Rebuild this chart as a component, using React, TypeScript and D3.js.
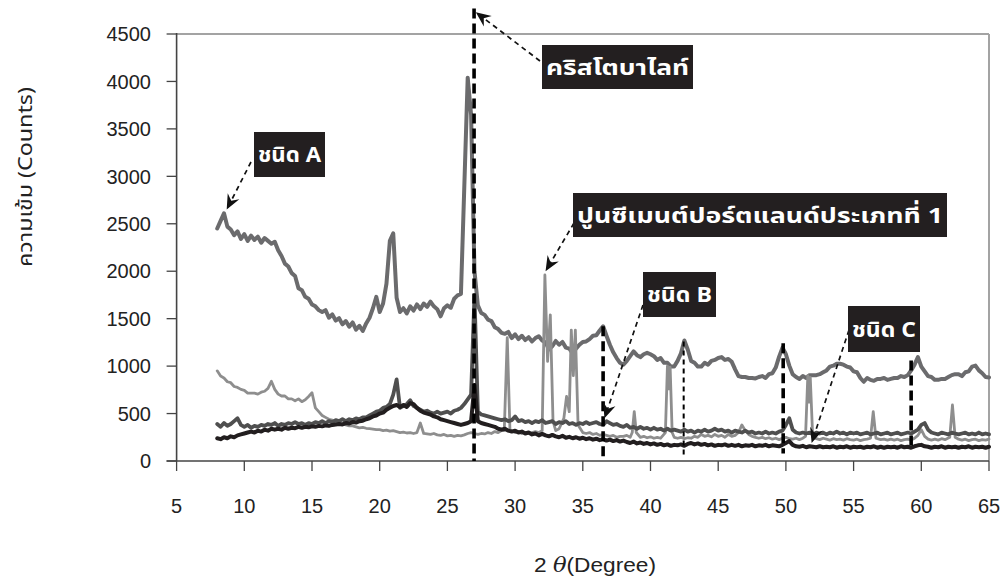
import React from 'react';
import * as d3 from 'd3';

// ---------- data ----------
const xTicks = [5, 10, 15, 20, 25, 30, 35, 40, 45, 50, 55, 60, 65];
const yTicks = [0, 500, 1000, 1500, 2000, 2500, 3000, 3500, 4000, 4500];

// sampling grid of the scans: 2θ from 8.00° in 0.25° steps
const gridStart = 8;
const gridStep = 0.25;

// ชนิด A
const seriesA = [
  2450, 2530, 2610, 2470, 2440, 2380, 2420, 2340, 2390, 2320, 2375, 2330, 2365, 2300, 2350, 2320, 2290, 2310, 2220, 2160,
  2080, 2050, 1980, 1950, 1820, 1800, 1730, 1710, 1650, 1630, 1590, 1570, 1590, 1510, 1545, 1480, 1505, 1440, 1475, 1415,
  1460, 1385, 1425, 1370, 1450, 1510, 1610, 1730, 1570, 1660, 1870, 2320, 2400, 1720, 1570, 1610, 1555, 1630, 1585, 1650,
  1600, 1660, 1625, 1680, 1630, 1600, 1525, 1610, 1640, 1615, 1710, 1745, 1760, 2900, 4040, 3650, 2000, 1640, 1560, 1540,
  1490, 1475, 1410, 1390, 1350, 1340, 1360, 1295, 1335, 1285, 1320, 1275, 1305, 1260, 1295, 1315, 1270, 1250, 1175, 1210,
  1265, 1225, 1255, 1195, 1185, 1135, 1185, 1225, 1255, 1260, 1285, 1320, 1325, 1375, 1420, 1320, 1225, 1145, 1085, 1035,
  1015, 1055, 1105, 1155, 1115, 1095, 1125, 1140, 1125, 1105, 1065, 1085, 1035, 1035, 995, 995, 1055, 1135, 1270, 1175,
  1055, 1035, 995, 995, 1035, 1015, 1055, 1065, 1085, 1095, 1065, 1075, 1045, 965, 895, 885, 885, 875, 875, 870,
  885, 895, 875, 915, 925, 985, 1100, 1195, 1125, 1005, 915, 885, 865, 895, 875, 905, 905, 905, 915, 935,
  955, 995, 1005, 1025, 1025, 1015, 995, 985, 945, 935, 875, 835, 875, 855, 845, 865, 865, 875, 855, 865,
  875, 875, 895, 885, 905, 955, 1015, 1095, 995, 945, 895, 885, 855, 855, 865, 865, 885, 905, 915, 915,
  895, 935, 945, 995, 1005, 955, 925, 885, 880,
];

// ปูนซีเมนต์ปอร์ตแลนด์ประเภทที่ 1 (broad background)
const seriesCement = [
  950, 895, 875, 835, 825, 785, 775, 755, 745, 715, 715, 715, 705, 725, 735, 765, 840, 755, 705, 685,
  685, 655, 655, 635, 655, 625, 645, 680, 720, 560, 520, 480, 460, 440, 430, 410, 400, 390, 380, 370,
  370, 360, 350, 355, 345, 340, 335, 330, 330, 320, 325, 315, 320, 310, 300, 305, 295, 300, 290, 300,
  400, 290, 285, 280, 290, 275, 270, 280, 265, 270, 260, 270, 265, 275, 290, 300, 290, 280, 290, 285,
  300, 290, 310, 300, 320, 310, 300, 320, 300, 310, 290, 300, 290, 300, 310, 300, 320, 310, 300, 330,
  320, 340, 400, 600, 500, 400, 380, 330, 300, 290, 300, 280, 290, 270, 280, 270, 260, 270, 250, 260,
  260, 270, 250, 260, 260, 250, 260, 245, 255, 240, 250, 240, 260, 260, 260, 250, 240, 250, 235, 245,
  240, 260, 250, 280, 260, 270, 255, 280, 260, 270, 250, 280, 260, 270, 300, 380, 320, 280, 260, 250,
  240, 250, 235, 245, 230, 240, 225, 240, 250, 235, 230, 240, 225, 240, 240, 240, 230, 235, 225, 240,
  230, 220, 235, 225, 230, 220, 235, 225, 220, 230, 215, 225, 230, 240, 240, 240, 225, 230, 220, 230,
  220, 230, 215, 225, 230, 220, 240, 270, 330, 260, 230, 220, 230, 220, 235, 225, 240, 240, 240, 230,
  220, 230, 215, 225, 230, 215, 225, 220, 230,
];
// sharp crystalline reflections of the cement, [2θ, counts]
const cementPeaks: [number, number][] = [
  [29.2, 320], [29.42, 1300], [29.62, 330],
  [32.0, 320], [32.2, 1960], [32.4, 1050], [32.6, 1540], [32.8, 420],
  [33.6, 450], [33.8, 680], [34.0, 520], [34.15, 1380], [34.3, 900], [34.45, 1380], [34.65, 380],
  [38.65, 300], [38.8, 520], [38.95, 300],
  [41.1, 300], [41.25, 1000], [41.35, 760], [41.45, 990], [41.6, 300],
  [51.45, 260], [51.62, 900], [51.72, 620], [51.8, 880], [51.98, 250],
  [56.25, 240], [56.45, 520], [56.65, 240],
  [62.1, 250], [62.3, 590], [62.5, 250],
];

// ชนิด B
const seriesB = [
  390, 360, 400, 370, 390, 420, 450, 380, 360, 380, 350, 370, 360, 380, 370, 390, 380, 400, 370, 390,
  380, 400, 390, 410, 390, 400, 380, 400, 390, 410, 400, 420, 400, 420, 410, 430, 420, 440, 420, 440,
  430, 450, 440, 460, 460, 480, 500, 520, 530, 560, 570, 600, 700, 860, 560, 580, 600, 640, 580, 560,
  540, 520, 530, 510, 500, 520, 500, 510, 520, 500, 530, 540, 560, 600, 650, 700, 1750, 520, 490, 480,
  470, 460, 450, 440, 430, 440, 420, 430, 470, 420, 430, 410, 420, 400, 420, 410, 430, 400, 410, 420,
  390, 410, 400, 420, 390, 400, 380, 400, 390, 410, 390, 400, 410, 390, 380, 420, 400, 380, 390, 370,
  360, 380, 350, 360, 340, 360, 340, 350, 330, 350, 330, 340, 320, 340, 320, 330, 320, 310, 330, 310,
  320, 300, 320, 310, 330, 310, 320, 340, 320, 330, 310, 320, 300, 320, 310, 300, 320, 300, 310, 290,
  300, 290, 310, 290, 300, 290, 310, 320, 380, 450, 330, 300, 290, 300, 290, 300, 280, 300, 290, 300,
  280, 300, 290, 310, 290, 300, 280, 300, 290, 300, 280, 290, 300, 280, 290, 300, 280, 290, 300, 280,
  290, 300, 280, 290, 300, 290, 310, 330, 380, 400, 330, 300, 290, 280, 300, 290, 280, 300, 290, 280,
  290, 300, 280, 290, 280, 300, 280, 290, 280,
];

// ชนิด C
const seriesC = [
  240, 230, 250, 240, 260, 250, 270, 280, 290, 300, 310, 300, 320, 310, 330, 320, 340, 330, 340, 330,
  350, 340, 350, 345, 360, 350, 360, 355, 365, 360, 370, 365, 375, 370, 380, 385, 390, 385, 400, 395,
  410, 405, 420, 425, 440, 450, 470, 480, 500, 510, 540, 560, 580, 590, 570, 590, 570, 610, 600, 560,
  530, 510, 500, 490, 470, 460, 440, 430, 420, 410, 400, 390, 380, 390, 400, 420, 800, 420, 400, 390,
  380, 370, 360, 340, 330, 340, 320, 310, 320, 300, 310, 290, 300, 280, 290, 270, 285, 270, 260, 275,
  260, 250, 265, 245, 255, 240, 250, 235, 245, 230, 240, 225, 235, 220, 230, 215, 225, 210, 220, 205,
  215, 200, 190, 205, 185, 195, 180, 190, 175, 185, 170, 180, 165, 175, 160, 170, 165, 175, 160, 180,
  190, 175, 185, 170, 180, 165, 175, 160, 170, 165, 175, 160, 170, 160, 170, 155, 165, 160, 170, 155,
  165, 160, 170, 155, 165, 160, 155, 170, 190, 210, 170, 155, 150, 160, 145, 155, 150, 145, 155, 145,
  150, 145, 155, 140, 150, 145, 155, 140, 150, 145, 150, 140, 150, 145, 155, 140, 150, 140, 150, 145,
  150, 140, 155, 145, 150, 140, 155, 165, 170, 155, 150, 140, 150, 145, 155, 140, 150, 145, 150, 140,
  150, 145, 155, 140, 150, 145, 150, 140, 150,
];

// cristobalite reference positions (2θ) with the counts range of each marker
const markerAngles = [26.97, 36.5, 42.45, 49.8, 59.25];
const markerTops = [4770, 1420, 1260, 1240, 1060];
const markerBottoms = [0, 0, 60, 80, 110];

// ---------- helpers ----------
function gridPoints(values: number[]): [number, number][] {
  return values.map((v, i) => [gridStart + i * gridStep, v] as [number, number]);
}
function withPeaks(base: [number, number][], peaks: [number, number][]): [number, number][] {
  const kept = base.filter((p) => !peaks.some((q) => Math.abs(q[0] - p[0]) < 0.13));
  return kept.concat(peaks).sort((a, b) => a[0] - b[0]);
}

const W = 1007;
const H = 578;
const M = { left: 176.6, right: 989, top: 34, bottom: 461 };

const thaiFont = "'Noto Sans Thai', 'Noto Sans Thai UI', Loma, Garuda, 'Tlwg Typo', 'DejaVu Sans', sans-serif";
const latinFont = "'Liberation Sans', Arial, Helvetica, sans-serif";

function Arrow({ x1, y1, x2, y2 }: { x1: number; y1: number; x2: number; y2: number }) {
  const ang = (Math.atan2(y2 - y1, x2 - x1) * 180) / Math.PI;
  const len = Math.hypot(x2 - x1, y2 - y1);
  const ux = (x2 - x1) / len;
  const uy = (y2 - y1) / len;
  return (
    <g>
      <line x1={x1} y1={y1} x2={x2 - ux * 8} y2={y2 - uy * 8} stroke="#111" strokeWidth={1.7} strokeDasharray="5,4" />
      <path d="M0,0 L-15,-6.5 L-10,0 L-15,6.5 Z" fill="#111" transform={`translate(${x2},${y2}) rotate(${ang})`} />
    </g>
  );
}

function Label({ x, y, w, h, text }: { x: number; y: number; w: number; h: number; text: string }) {
  return (
    <g>
      <rect x={x} y={y} width={w} height={h} fill="#231f20" />
      <text
        x={x + w / 2}
        y={y + h / 2}
        dy="0.36em"
        textAnchor="middle"
        fill="#fff"
        fontFamily={thaiFont}
        fontWeight="bold"
        fontSize={22}
        textLength={w - 8}
        lengthAdjust="spacingAndGlyphs"
      >
        {text}
      </text>
    </g>
  );
}

export default function App() {
  const x = d3.scaleLinear().domain([5, 65]).range([M.left, M.right]);
  const y = d3.scaleLinear().domain([0, 4500]).range([M.bottom, M.top]);
  const line = d3
    .line<[number, number]>()
    .x((d) => x(d[0]))
    .y((d) => y(d[1]));

  const ptsA = gridPoints(seriesA);
  const ptsCement = withPeaks(gridPoints(seriesCement), cementPeaks);
  const ptsB = gridPoints(seriesB);
  const ptsC = gridPoints(seriesC);

  return (
    <svg width={W} height={H} style={{ position: 'absolute', left: 0, top: 0, background: '#fff' }}>
      <rect x={0} y={0} width={W} height={H} fill="#fff" />
      {/* frame */}
      <line x1={M.left} y1={M.top} x2={M.right} y2={M.top} stroke="#a3a3a3" strokeWidth={2} />
      <line x1={M.right} y1={M.top} x2={M.right} y2={M.bottom} stroke="#a3a3a3" strokeWidth={2} />

      {/* series */}
      <g fill="none" strokeLinejoin="round" strokeLinecap="round">
        <path d={line(ptsA) || ''} stroke="#6b6b6d" strokeWidth={4} />
        <path d={line(ptsCement) || ''} stroke="#8e8e8e" strokeWidth={2.8} />
        <path d={line(ptsB) || ''} stroke="#4f4f4f" strokeWidth={3.8} />
        <path d={line(ptsC) || ''} stroke="#221e1f" strokeWidth={4} />
      </g>

      {/* axes */}
      <line x1={M.left} y1={M.top - 1} x2={M.left} y2={M.bottom} stroke="#444" strokeWidth={1.6} />
      <line x1={M.left - 10} y1={M.bottom} x2={M.right} y2={M.bottom} stroke="#444" strokeWidth={1.6} />
      {yTicks.map((t) => (
        <g key={'y' + t}>
          <line x1={M.left - 10} x2={M.left} y1={y(t)} y2={y(t)} stroke="#444" strokeWidth={1.3} />
          <text x={151} y={y(t)} dy="0.36em" textAnchor="end" fontFamily={latinFont} fontSize={20} fill="#222">
            {t}
          </text>
        </g>
      ))}
      {xTicks.map((t) => (
        <g key={'x' + t}>
          <line x1={x(t)} x2={x(t)} y1={M.bottom} y2={M.bottom + 10} stroke="#444" strokeWidth={1.3} />
          <text x={x(t)} y={513} textAnchor="middle" fontFamily={latinFont} fontSize={20} fill="#222">
            {t}
          </text>
        </g>
      ))}

      {/* cristobalite markers */}
      {markerAngles.map((a, i) => (
        <line
          key={'m' + i}
          x1={x(a)}
          x2={x(a)}
          y1={y(markerTops[i])}
          y2={y(markerBottoms[i])}
          stroke="#000"
          strokeWidth={i === 2 ? 2 : 3.6}
          strokeDasharray={i === 2 ? '5,4' : '10,5'}
        />
      ))}

      {/* annotations */}
      <Arrow x1={540} y1={61} x2={x(27.1)} y2={y(4730)} />
      <Label x={542} y={45} w={151} h={44} text="คริสโตบาไลท์" />

      <Arrow x1={251} y1={162} x2={x(8.7)} y2={y(2650)} />
      <Label x={254} y={132} w={71} h={45} text="ชนิด A" />

      <Arrow x1={574} y1={223} x2={x(32.25)} y2={y(2000)} />
      <Label x={573} y={193} w={374} h={44} text="ปูนซีเมนต์ปอร์ตแลนด์ประเภทที่ 1" />

      <Arrow x1={643} y1={305} x2={x(36.6)} y2={y(450)} />
      <Label x={643} y={272} w={73} h={45} text="ชนิด B" />

      <Arrow x1={849} y1={330} x2={x(51.9)} y2={y(190)} />
      <Label x={848} y={306} w={72} h={46} text="ชนิด C" />

      {/* axis titles */}
      <text
        transform="translate(25,177) rotate(-90)"
        textAnchor="middle"
        dy="0.36em"
        fontFamily={thaiFont}
        fontSize={20}
        fill="#222"
        textLength={180}
        lengthAdjust="spacingAndGlyphs"
      >
        ความเข้ม  (Counts)
      </text>
      <text
        x={595}
        y={572}
        textAnchor="middle"
        fontFamily={latinFont}
        fontSize={20}
        fill="#222"
        textLength={122}
        lengthAdjust="spacingAndGlyphs"
      >
        <tspan>2 </tspan>
        <tspan fontStyle="italic" fontFamily="'DejaVu Serif', serif">θ</tspan>
        <tspan>(Degree)</tspan>
      </text>
    </svg>
  );
}
